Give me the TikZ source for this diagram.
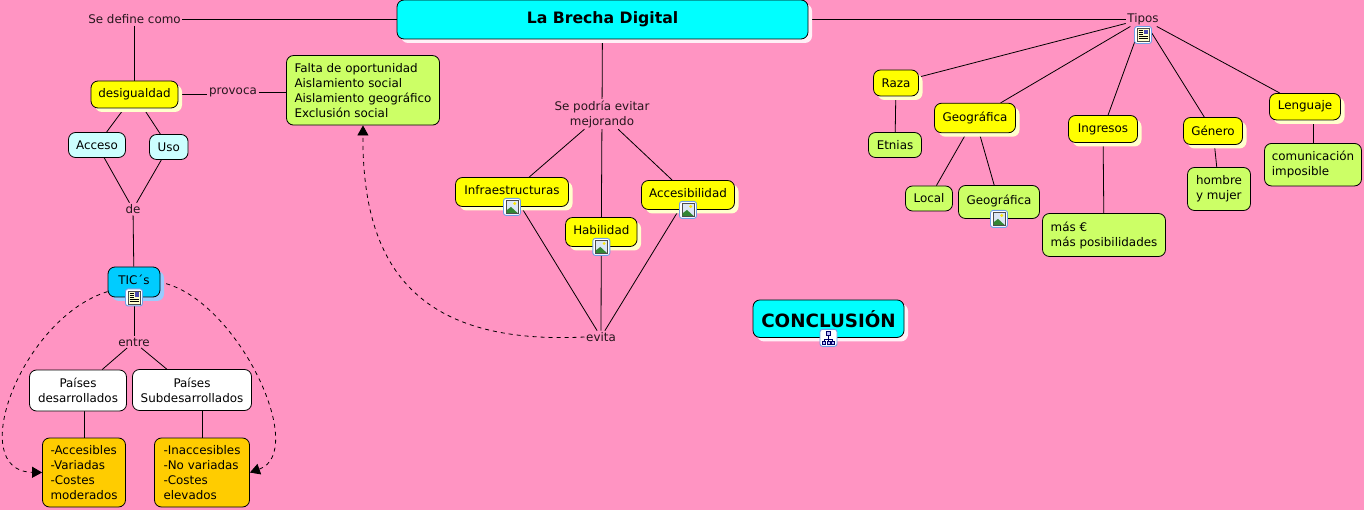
\documentclass[tikz,border=0pt]{standalone}
\usepackage{fontspec}
\setmainfont{DejaVu Sans}
\usetikzlibrary{arrows.meta,backgrounds,shadows}
\definecolor{pinkbg}{HTML}{FF94C2}
\definecolor{titlecyan}{HTML}{00FFFF}
\definecolor{paleaqua}{HTML}{CCFFFF}
\definecolor{brightyellow}{HTML}{FFFF00}
\definecolor{leafgreen}{HTML}{CCFF66}
\definecolor{paleyellow}{HTML}{FFFFCC}
\definecolor{ticblue}{HTML}{00CCFF}
\definecolor{ticshade}{HTML}{99CCFF}
\definecolor{orangebox}{HTML}{FFCC00}
\definecolor{iconedge}{HTML}{6F9FE8}
\definecolor{iconsky}{HTML}{DCE6F5}
\tikzset{
 iconframe/.pic={\filldraw[fill=white,draw=iconedge,line width=.9pt,rounded corners=2.5pt] (-8.5,-8.5) rectangle (8.5,8.5);},
 photoicon/.pic={\pic {iconframe};
  \filldraw[fill=iconsky,draw=black!70,line width=.6pt] (-6,-6.5) rectangle (6,6.5);
  \fill[green!40!black!80] (-5.5,6) -- (-5.5,3.5) -- (-1,0) -- (5.5,6) -- cycle;
  \fill[yellow!90!orange] (2.8,-3.4) circle (1.6);},
 docicon/.pic={\pic {iconframe};
  \filldraw[fill=paleyellow,draw=black!70,line width=.6pt] (-6,-6.5) rectangle (6,6.5);
  \fill[blue!40!gray] (.5,-5) rectangle (5,-.5);
  \foreach \ly in {-4.5,-2.5,-.5}{\draw[line width=.6pt] (-4.5,\ly) -- (-.5,\ly);}
  \foreach \ly in {1.5,3.5}{\draw[line width=.6pt] (-4.5,\ly) -- (4.5,\ly);}},
 mapicon/.pic={\pic {iconframe};
  \draw[line width=.7pt,draw=blue!40!black] (0,-3) -- (0,4) (-4,4) -- (-4,1) -- (4,1) -- (4,4);
  \filldraw[fill=blue!25,draw=blue!40!black,line width=.6pt] (-2,-6.5) rectangle (2,-2.5) (-6,3.5) rectangle (-3,6.5) (-1.5,3.5) rectangle (1.5,6.5) (3,3.5) rectangle (6,6.5);}
}
\begin{document}
\begin{tikzpicture}[x=1pt,y=-1pt,>={Triangle[length=10pt,width=11pt]},
 font=\fontsize{11.9}{15}\selectfont,
 box/.style={draw,rounded corners=7pt,line width=.8pt,inner sep=0pt,align=left},
 mainbox/.style={box,fill=titlecyan,font=\fontsize{15.7}{18}\selectfont\bfseries,
  drop shadow={shadow xshift=4pt,shadow yshift=-4pt,fill=white!85!pinkbg,opacity=1}},
 yellowbox/.style={box,fill=brightyellow,align=center,
  drop shadow={shadow xshift=4pt,shadow yshift=-4pt,fill=paleyellow,opacity=1}},
 ticbox/.style={box,fill=ticblue,align=center,
  drop shadow={shadow xshift=4pt,shadow yshift=-4pt,fill=ticshade,opacity=1}},
 withicon/.style={text depth=5pt},
 greenbox/.style={box,fill=leafgreen},
 cyanbox/.style={box,fill=paleaqua,align=center},
 whitebox/.style={box,fill=white,align=center},
 amberbox/.style={box,fill=orangebox},
 linkword/.style={inner sep=1.5pt,align=center,text=black!85!pinkbg},
 link/.style={line width=.8pt},
 dashlink/.style={link,dash pattern=on 4pt off 4pt,->}]
\begin{scope}[on background layer]
\fill[pinkbg] (0,0) rectangle (1364,510);
\end{scope}
\useasboundingbox (0,0) rectangle (1364,510);
% title and the left branch
\node[mainbox,minimum width=411,minimum height=39] (brecha) at (602.5,19.5) {La Brecha Digital};
\node[linkword] (define) at (134.5,19.5) {Se define como};
\node[yellowbox,minimum width=87,minimum height=27] (desigualdad) at (134.5,94.5) {desigualdad};
\node[linkword] (provoca) at (233,92) {provoca};
\node[greenbox,minimum width=153,minimum height=69.5] (falta) at (363,90.3) {Falta de oportunidad\\Aislamiento social\\Aislamiento geográfico\\Exclusión social};
\node[cyanbox,minimum width=57,minimum height=25] (acceso) at (97,145) {Acceso};
\node[cyanbox,minimum width=38.5,minimum height=25] (uso) at (168.8,147) {Uso};
\node[linkword] (de) at (133,209) {de};
\node[ticbox,withicon,minimum width=52,minimum height=30] (tics) at (134,282) {TIC´s};
\node[linkword] (entre) at (134,342) {entre};
\node[whitebox,minimum width=97,minimum height=41] (desarrollados) at (78,390.5) {Países\\desarrollados};
\node[whitebox,minimum width=119,minimum height=41] (subdes) at (192,390) {Países\\Subdesarrollados};
\node[amberbox,minimum width=83,minimum height=69] (accesibles) at (84,472.5) {-Accesibles\\-Variadas\\-Costes\\moderados};
\node[amberbox,minimum width=95,minimum height=69] (inaccesibles) at (202,472.5) {-Inaccesibles\\-No variadas\\-Costes\\elevados};
% middle branch
\node[linkword] (evitar) at (602,114) {Se podría evitar\\mejorando};
\node[yellowbox,withicon,minimum width=113,minimum height=29] (infra) at (512,192) {Infraestructuras};
\node[yellowbox,withicon,minimum width=71.5,minimum height=29] (habilidad) at (601.3,232) {Habilidad};
\node[yellowbox,withicon,minimum width=93,minimum height=29] (accesib) at (688,195) {Accesibilidad};
\node[linkword] (evita) at (601,337) {evita};
\node[mainbox,minimum width=151,minimum height=37.5,font=\fontsize{18.3}{20}\selectfont\bfseries] (conclusion) at (828.5,318.7) {CONCLUSIÓN};
% right branch
\node[linkword] (tipos) at (1143,19) {Tipos};
\node[yellowbox,minimum width=45,minimum height=26] (raza) at (896,83) {Raza};
\node[yellowbox,minimum width=81,minimum height=29.5] (geo) at (975,118) {Geográfica};
\node[yellowbox,minimum width=69,minimum height=27] (ingresos) at (1103,129) {Ingresos};
\node[yellowbox,minimum width=59,minimum height=27] (genero) at (1213,131) {Género};
\node[yellowbox,minimum width=71,minimum height=26.5] (lenguaje) at (1305,106.7) {Lenguaje};
\node[greenbox,minimum width=53,minimum height=25,align=center] (etnias) at (895,145) {Etnias};
\node[greenbox,minimum width=47,minimum height=25,align=center] (local) at (929,198.5) {Local};
\node[greenbox,withicon,minimum width=81,minimum height=33,align=center] (geoverde) at (999,202) {Geográfica};
\node[greenbox,minimum width=123,minimum height=43] (mas) at (1104,235) {más €\\más posibilidades};
\node[greenbox,minimum width=63,minimum height=43] (hombre) at (1219,189) {hombre\\y mujer};
\node[greenbox,minimum width=97,minimum height=42.5] (comunic) at (1313,164.7) {comunicación\\imposible};
\pic at (tics.south) {docicon};
\pic at (infra.south) {photoicon};
\pic at (habilidad.south) {photoicon};
\pic at (accesib.south) {photoicon};
\pic at (conclusion.south) {mapicon};
\pic at (1143,35) {docicon};
\pic at (geoverde.south) {photoicon};
\begin{scope}[on background layer,every path/.style={link}]
\draw (brecha) -- (define);\draw (define) -- (desigualdad);
\draw (desigualdad.east) -- (desigualdad.east -| provoca.west);\draw (provoca) -- (provoca -| falta.west);
\draw (desigualdad) -- (acceso);\draw (desigualdad) -- (uso);
\draw (acceso) -- (de);\draw (uso) -- (de);\draw (de) -- (tics);
\draw (tics) -- (entre);\draw (entre) -- (desarrollados);\draw (entre) -- (subdes);
\draw (accesibles.north) -- (accesibles.north |- desarrollados.south);
\draw (inaccesibles.north) -- (inaccesibles.north |- subdes.south);
\draw (brecha) -- (evitar);\draw (evitar) -- (infra);\draw (evitar) -- (habilidad);\draw (evitar) -- (accesib);
\draw (infra) -- (evita);\draw (habilidad) -- (evita);\draw (accesib) -- (evita);
\draw (brecha.east) -- (brecha.east -| tipos.west);\draw (tipos) -- (raza);\draw (tipos) -- (geo);\draw (tipos) -- (ingresos);
\draw (tipos) -- (genero);\draw (tipos) -- (lenguaje);
\draw (raza) -- (etnias);\draw (geo) -- (local);\draw (geo) -- (geoverde);
\draw (ingresos) -- (mas);\draw (genero) -- (hombre);
\draw (comunic.north) -- (comunic.north |- lenguaje.south);
\end{scope}
% dashed cross links
\draw[dashlink] (tics.200) .. controls (22,318) and (-36,471) .. (accesibles.west);
\draw[dashlink,shorten <=6pt] (tics.east) .. controls (240,305) and (308,452) .. (inaccesibles.east);
\draw[dashlink] (evita.west) .. controls (420,345) and (362,270) .. (falta.south);
\end{tikzpicture}
\end{document}
